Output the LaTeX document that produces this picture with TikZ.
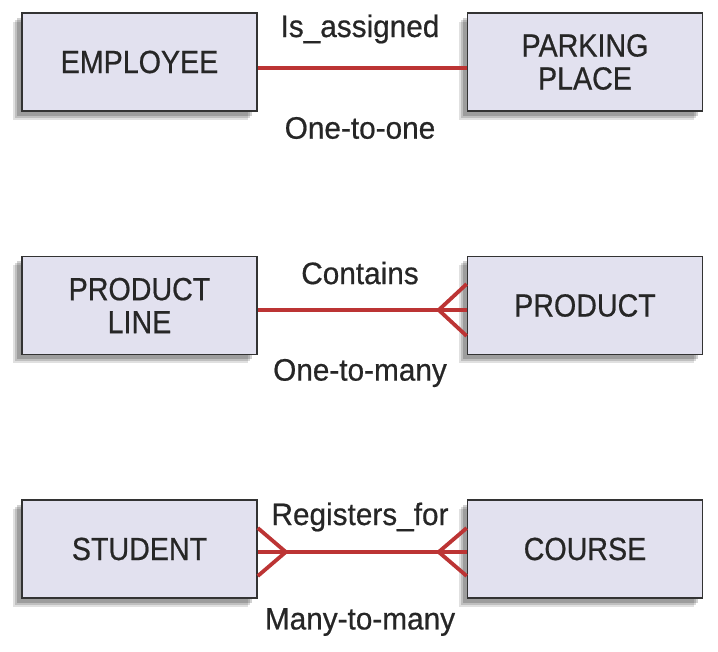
\documentclass[tikz,border=0pt]{standalone}
\usepackage{fontspec}
\setmainfont{Liberation Sans}[FakeStretch=0.895,FakeBold=0.6]
\newfontfamily\lblfont{Liberation Sans}[FakeStretch=0.96,FakeBold=0.6]
\usetikzlibrary{shadows}
\definecolor{boxfill}{HTML}{E2E1EF}
\definecolor{relred}{HTML}{BC3434}
\definecolor{txt}{HTML}{262626}
\tikzset{
  entity/.style={draw=black!80, line width=1.6pt, fill=boxfill, minimum width=235pt, minimum height=98pt,
    align=center, text=txt, font=\fontsize{32}{33}\selectfont,
    general shadow={fill=black, opacity=0.12, shadow xshift=-9pt, shadow yshift=-9pt},
    general shadow={fill=black, opacity=0.15, shadow xshift=-7pt, shadow yshift=-7pt},
    general shadow={fill=black, opacity=0.18, shadow xshift=-5pt, shadow yshift=-5pt}},
  rel/.style={draw=relred, line width=3.8pt},
  lbl/.style={text=txt, font=\lblfont\fontsize{31}{33}\selectfont, inner sep=0pt}
}
\begin{document}
\begin{tikzpicture}[x=1pt,y=-1pt]
\useasboundingbox (0,0) rectangle (718,652);
% row 1
\node[entity] (emp) at (139.5,62) {EMPLOYEE};
\node[entity] (park) at (585,62) {PARKING\\PLACE};
\draw[rel] ([yshift=-6pt]emp.east) -- ([yshift=-6pt]park.west);
\node[lbl] (l1) at (360,29) {Is\_assigned};
\node[lbl] (c1) at (360,128) {One-to-one};
% row 2
\node[entity] (pl) at (139.5,305.5) {PRODUCT\\LINE};
\node[entity] (prod) at (585,305.5) {PRODUCT};
\coordinate (e2) at ([yshift=-4.5pt]pl.east);
\coordinate (w2) at ([yshift=-4.5pt]prod.west);
\draw[rel] (e2) -- (w2);
\coordinate (f2) at ([xshift=-28pt]w2);
\draw[rel, line join=round] ([yshift=26pt]w2) -- (f2) -- ([yshift=-26pt]w2);
\node[lbl] (l2) at (360,273) {Contains};
\node[lbl] (c2) at (360,373) {One-to-many};
% row 3
\node[entity] (stu) at (139.5,549) {STUDENT};
\node[entity] (crs) at (585,549) {COURSE};
\coordinate (e3) at ([yshift=-3pt]stu.east);
\coordinate (w3) at ([yshift=-3pt]crs.west);
\draw[rel] (e3) -- (w3);
\coordinate (f3a) at ([xshift=28pt]e3);
\coordinate (f3b) at ([xshift=-28pt]w3);
\draw[rel, line join=round] ([yshift=24pt]e3) -- (f3a) -- ([yshift=-24pt]e3);
\draw[rel, line join=round] ([yshift=24pt]w3) -- (f3b) -- ([yshift=-24pt]w3);
\node[lbl] (l3) at (360,517) {Registers\_for};
\node[lbl] (c3) at (360,622) {Many-to-many};
\end{tikzpicture}
\end{document}
